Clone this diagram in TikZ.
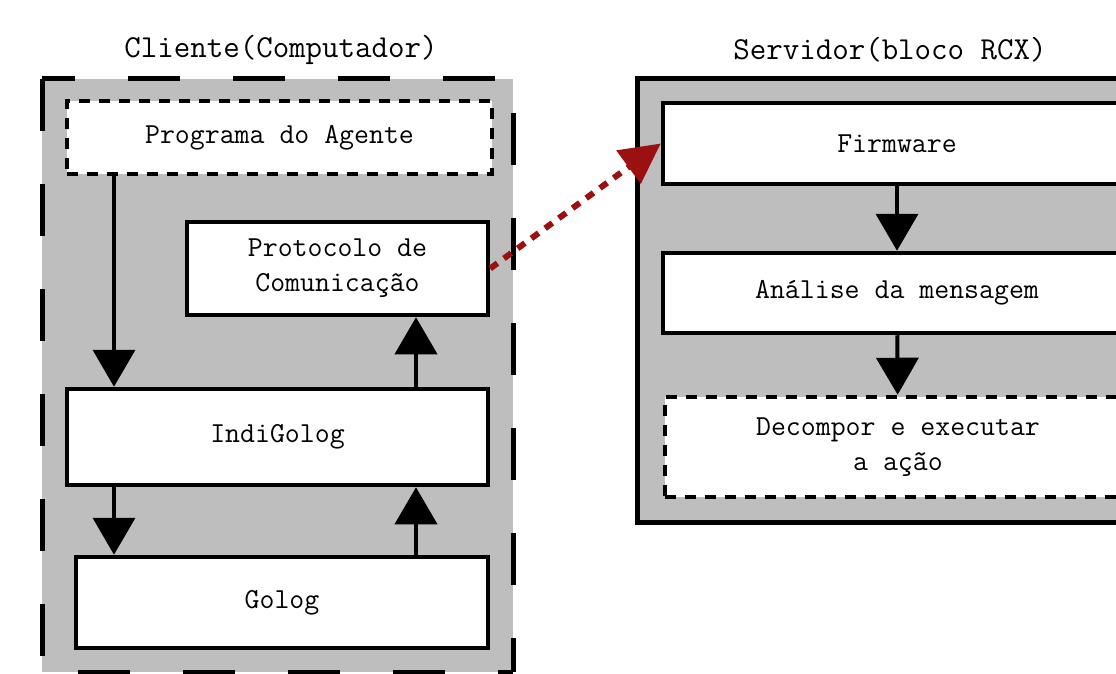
\documentclass[tikz,border=0pt]{standalone}
\usepackage{fontspec}
\usetikzlibrary{arrows.meta}

\begin{document}
\begin{tikzpicture}[x=1pt, y=-1pt,
  caixa/.style={draw=black, fill=white, line width=4.5pt, inner sep=0pt,
    font=\ttfamily\fontsize{29}{35}\selectfont, align=center},
  caixatrac/.style={caixa, dash pattern=on 11pt off 9pt},
  titulo/.style={font=\ttfamily\fontsize{32}{36}\selectfont},
  seta/.style={line width=4pt, -{Triangle[width=42pt,length=37pt]}},
  setarede/.style={draw=vermelho, line width=6pt, dash pattern=on 9pt off 8pt,
    -{Triangle[width=40pt,length=40pt,fill=vermelho]}},
  borda/.style={line width=5pt, dash pattern=on 52pt off 53pt}]

% Cores
\definecolor{cinza}{RGB}{190,190,190}
\definecolor{vermelho}{RGB}{155,17,17}

\useasboundingbox (0,0) rectangle (1116,674);
\clip (0,0) rectangle (1116,674);

% Titulos
\node[titulo] (tcli) at (281,50) {Cliente(Computador)};
\node[titulo] (tser) at (890,50) {Servidor(bloco RCX)};

% Cliente (borda tracejada)
\fill[cinza] (42,79) rectangle (513,672);
\draw[borda, dash phase=19pt] (42,79) -- (513,79);
\draw[borda] (42,79) -- (42,672);
\draw[borda, dash phase=71pt] (513,79) -- (513,672);
\draw[borda, dash phase=69pt] (42,672) -- (513,672);

% Servidor
\draw[fill=cinza, line width=5pt] (637,79) rectangle (1160,522);

% Caixas do cliente
\node[caixatrac, minimum width=425pt, minimum height=73pt] (prog) at (279.5,137.5) {Programa do Agente};
\node[caixa, minimum width=301pt, minimum height=93pt] (proto) at (337.5,268.5) {Protocolo de\\Comunicação};
\node[caixa, minimum width=421pt, minimum height=96pt] (indi) at (277.5,437) {IndiGolog};
\node[caixa, minimum width=412pt, minimum height=91pt] (golog) at (282,602.5) {Golog};

% Caixas do servidor
\node[caixa, minimum width=468pt, minimum height=81pt] (firm) at (897,143.5) {Firmware};
\node[caixa, minimum width=468pt, minimum height=80pt] (anal) at (897,293) {Análise da mensagem};
\node[caixatrac, minimum width=466pt, minimum height=100pt] (decomp) at (898,447) {Decompor e executar\\a ação};

% Setas
\coordinate (xe) at (114,0);
\coordinate (xd) at (416,0);
\draw[seta] (prog.south -| xe) -- (indi.north -| xe);
\draw[seta] (indi.south -| xe) -- (golog.north -| xe);
\draw[seta] (golog.north -| xd) -- (indi.south -| xd);
\draw[seta] (indi.north -| xd) -- (proto.south -| xd);
\draw[seta] (firm) -- (anal);
\draw[seta] (anal) -- (decomp);
\draw[setarede] (proto.east) -- (firm.west);

\end{tikzpicture}
\end{document}
